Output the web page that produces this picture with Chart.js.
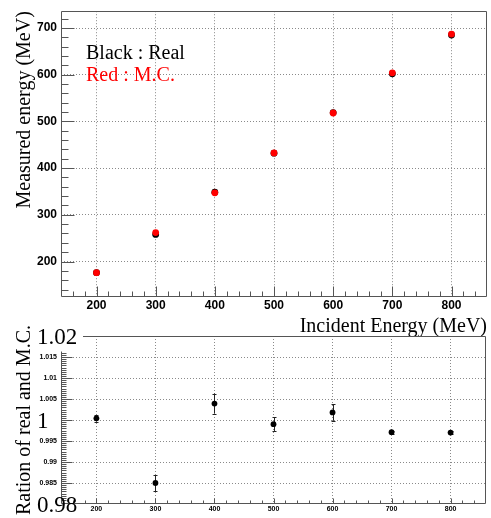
<!DOCTYPE html>
<html><head><meta charset="utf-8">
<script src="https://cdn.jsdelivr.net/npm/chart.js@4"></script>
<style>
html,body{margin:0;padding:0;background:#fff;}
#wrap{position:relative;width:491px;height:518px;overflow:hidden;background:#fff;}
canvas{position:absolute;left:0;}
#topc{top:0;} #botc{top:316px;}
</style></head><body>
<div id="wrap"><canvas id="topc" width="491" height="340"></canvas><canvas id="botc" width="491" height="202"></canvas></div>
<script>
// ---- data ----
const energies = [200, 300, 400, 500, 600, 700, 800];
const realEnergy = [176, 258, 348.5, 432, 519, 602, 685];
const mcEnergy = [176, 262, 347, 432.5, 518, 604, 687];
const ratio = [1.0004, 0.9850, 1.0039, 0.9990, 1.0018, 0.9971, 0.9970];
const ratioErr = [0.0008, 0.0019, 0.0024, 0.0016, 0.0020, 0.0004, 0.0004];
const xTicks = [200, 300, 400, 500, 600, 700, 800];
const energyTicks = [200, 300, 400, 500, 600, 700];
const ratioTicks = [0.985, 0.99, 0.995, 1, 1.005, 1.01, 1.015];
const bigRatioValues = [1.02, 1, 0.98];
const bigRatioTexts = ['1.02', '1', '0.98'];

const SANS = '"Liberation Sans", Arial, Helvetica, sans-serif';
const SERIF = '"Liberation Serif", "Times New Roman", serif';
const AXIS = '#555';

function toPts(xs, ys){ return xs.map((x,i)=>({x:x, y:ys[i]})); }

const framePlugin = {
  id: 'frame',
  beforeDatasetsDraw(chart, args, o){
    if (!o.errors) return;
    const {ctx, scales:{x,y}} = chart;
    ctx.save();
    ctx.strokeStyle = '#222'; ctx.lineWidth = 1;
    o.errors.xs.forEach((xv,i)=>{
      const px = Math.round(x.getPixelForValue(xv)) + 0.5;
      const y1 = y.getPixelForValue(o.errors.ys[i] - o.errors.es[i]);
      const y2 = y.getPixelForValue(o.errors.ys[i] + o.errors.es[i]);
      ctx.beginPath();
      ctx.moveTo(px, y1); ctx.lineTo(px, y2);
      ctx.moveTo(px-2, Math.round(y1)+0.5); ctx.lineTo(px+2, Math.round(y1)+0.5);
      ctx.moveTo(px-2, Math.round(y2)+0.5); ctx.lineTo(px+2, Math.round(y2)+0.5);
      ctx.stroke();
    });
    ctx.restore();
  },
  afterDraw(chart, args, o){
    const {ctx, chartArea:a, scales:{x,y}} = chart;
    const L = Math.round(a.left)+0.5, R = Math.round(a.right)-0.5;
    const T = Math.round(a.top)+0.5, B = Math.round(a.bottom)-0.5;
    ctx.save();
    ctx.strokeStyle = AXIS; ctx.lineWidth = 1;
    ctx.beginPath();
    const topStart = o.topStart !== undefined ? o.topStart : L;
    const leftTop = o.leftTop !== undefined ? y.getPixelForValue(o.leftTop) : T;
    ctx.moveTo(topStart, T); ctx.lineTo(R, T);
    ctx.moveTo(R, T); ctx.lineTo(R, B);
    ctx.moveTo(L, B); ctx.lineTo(R, B);
    ctx.moveTo(L, leftTop); ctx.lineTo(L, B);
    // x ticks
    for (let v = o.xStart; v <= x.max + 1e-9; v += o.xStep){
      const major = Math.abs(v/o.xMajor - Math.round(v/o.xMajor)) < 1e-6;
      const px = Math.round(x.getPixelForValue(v)) + 0.5;
      if (px <= L + 1 || px >= R - 1) continue;
      ctx.moveTo(px, B); ctx.lineTo(px, B - (major ? o.xMajLen : o.xMinLen));
    }
    // y ticks
    const yTop = o.yTickTop !== undefined ? o.yTickTop : y.max;
    for (let v = o.yStart; v <= yTop + 1e-9; v += o.yStep){
      const major = Math.abs(v/o.yMajor - Math.round(v/o.yMajor)) < 1e-6;
      const py = Math.round(y.getPixelForValue(v)) + 0.5;
      if (py >= B - 1 || py <= T + 1) continue;
      ctx.moveTo(L, py); ctx.lineTo(L + (major ? o.yMajLen : o.yMinLen), py);
    }
    ctx.stroke();
    // texts
    if (o.texts){
      o.texts.forEach(t=>{
        ctx.font = t.font; ctx.fillStyle = t.color;
        ctx.textAlign = 'left'; ctx.textBaseline = 'alphabetic';
        const py = t.value !== undefined ? y.getPixelForValue(t.value) + t.dy : t.y;
        ctx.fillText(t.text, t.x, py);
      });
    }
    ctx.restore();
  }
};

const gridCommon = {color:'#8a8a8a', drawTicks:false, lineWidth:1};
const borderCommon = {display:false, dash:[1,2]};

new Chart(document.getElementById('topc'), {
  type: 'scatter',
  data: {datasets: [
    {label:'Red : M.C.', data: toPts(energies, mcEnergy), backgroundColor:'#ff0000', borderWidth:0, pointRadius:3.4},
    {label:'Black : Real', data: toPts(energies, realEnergy), backgroundColor:'#000000', borderWidth:0, pointRadius:3.4}
  ]},
  options: {
    responsive:false, animation:false, events:[],
    layout:{padding:{top:8, right:4, bottom:0, left:0}},
    plugins:{
      legend:{display:false}, tooltip:{enabled:false},
      frame:{xStart:140, xStep:20, xMajor:100, xMajLen:10, xMinLen:5,
             yStart:140, yStep:20, yMajor:100, yMajLen:13, yMinLen:7,
             texts:[
               {text:'Black : Real', x:86, y:59, font:'20px '+SERIF, color:'#000'},
               {text:'Red : M.C.', x:86, y:81, font:'20px '+SERIF, color:'#ff0000'}
             ]}
    },
    scales:{
      x:{type:'linear', min:140, max:860,
        afterBuildTicks:s=>{ s.ticks = xTicks.map(v=>({value:v})); },
        afterFit:s=>{ s.height = 43; },
        grid:gridCommon, border:borderCommon,
        ticks:{color:'#000', font:{family:SANS, size:12, weight:'bold'}, padding:1, maxRotation:0, autoSkip:false},
        title:{display:true, text:'Incident Energy (MeV)', align:'end', color:'#000', font:{family:SERIF, size:20}, padding:{top:0, bottom:1}}
      },
      y:{type:'linear', min:124, max:736,
        afterBuildTicks:s=>{ s.ticks = energyTicks.map(v=>({value:v})); },
        afterFit:s=>{ s.width = 61; },
        grid:gridCommon, border:borderCommon,
        ticks:{color:'#000', font:{family:SANS, size:12, weight:'bold'}, padding:4, autoSkip:false},
        title:{display:true, text:'Measured energy (MeV)', align:'end', color:'#000', font:{family:SERIF, size:20}, padding:{top:13, bottom:0}}
      }
    }
  },
  plugins:[framePlugin]
});

new Chart(document.getElementById('botc'), {
  type: 'scatter',
  data: {datasets: [
    {label:'Ratio of real and M.C.', data: toPts(energies, ratio), backgroundColor:'#000000', borderWidth:0, pointRadius:2.9}
  ]},
  options: {
    responsive:false, animation:false, events:[],
    layout:{padding:{top:20, right:5, bottom:0, left:0}},
    plugins:{
      legend:{display:false}, tooltip:{enabled:false},
      frame:{xStart:140, xStep:20, xMajor:100, xMajLen:5, xMinLen:3,
             yStart:0.9805, yStep:0.0005, yMajor:0.005, yMajLen:11, yMinLen:5, yTickTop:1.0162,
             topStart:83, leftTop:1.0163,
             errors:{xs:energies, ys:ratio, es:ratioErr},
             texts: bigRatioValues.map((v,i)=>({text:bigRatioTexts[i], value:v, dy:8, x:37, font:'23px '+SERIF, color:'#000'}))
      }
    },
    scales:{
      x:{type:'linear', min:140, max:860,
        afterBuildTicks:s=>{ s.ticks = xTicks.map(v=>({value:v})); },
        afterFit:s=>{ s.height = 14; },
        grid:gridCommon, border:borderCommon,
        ticks:{color:'#000', font:{family:SANS, size:7, weight:'bold'}, padding:1, maxRotation:0, autoSkip:false}
      },
      y:{type:'linear', min:0.98, max:1.02,
        afterBuildTicks:s=>{ s.ticks = ratioTicks.map(v=>({value:v})); },
        afterFit:s=>{ s.width = 61; },
        grid:gridCommon, border:borderCommon,
        ticks:{color:'#000', font:{family:SANS, size:7, weight:'bold'}, padding:4, autoSkip:false,
          callback:v=> Math.abs(v-1) < 1e-9 ? '' : String(parseFloat(v.toFixed(3)))},
        title:{display:true, text:'Ration of real and M.C.', align:'center', color:'#000', font:{family:SERIF, size:20}, padding:{top:13, bottom:0}}
      }
    }
  },
  plugins:[framePlugin]
});
</script>
</body></html>
